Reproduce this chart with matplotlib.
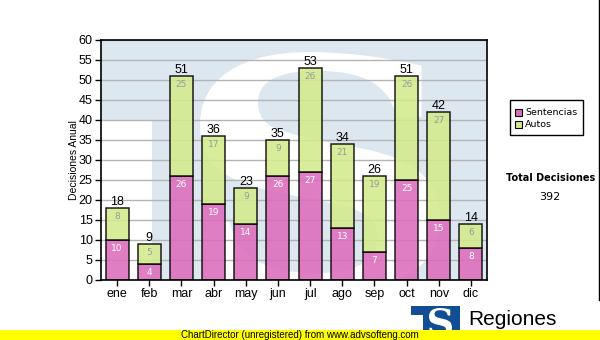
import numpy as np
import matplotlib
matplotlib.use("Agg")
import matplotlib.pyplot as plt
from matplotlib.patches import Rectangle, PathPatch
from matplotlib.textpath import TextPath
from matplotlib.transforms import Affine2D
from matplotlib.font_manager import FontProperties
from matplotlib.lines import Line2D

# monthly decisions
meses = ["ene", "feb", "mar", "abr", "may", "jun", "jul", "ago", "sep", "oct", "nov", "dic"]
sentencias = [10, 4, 26, 19, 14, 26, 27, 13, 7, 25, 15, 8]
autos = [8, 5, 25, 17, 9, 9, 26, 21, 19, 26, 27, 6]
yticks = list(range(0, 61, 5))

W, H = 600, 340
PINK = "#dc6cbb"
GREEN = "#d3eb8c"
LIGHT_BLUE = "#dde7f0"
LOGO_BLUE = "#124e94"

fig = plt.figure(figsize=(W / 100, H / 100), dpi=100)
fig.patch.set_facecolor("white")


def px(x, y):
    # pixel position (from top-left) -> figure fraction
    return x / W, 1 - y / H


def s_patch(x0, y0, x1, y1, color, **kw):
    tp = TextPath((0, 0), "S", size=1,
                  prop=FontProperties(family="DejaVu Serif", weight="bold"))
    ext = tp.get_extents()
    sx = (x1 - x0) / ext.width / W
    sy = (y1 - y0) / ext.height / H
    tr = (Affine2D().translate(-ext.x0, -ext.y0).scale(sx, sy)
          .translate(x0 / W, 1 - y1 / H) + fig.transFigure)
    return PathPatch(tp, transform=tr, facecolor=color, lw=0, **kw)


l, t = px(101, 40)
r, b = px(487, 280)
ax = fig.add_axes([l, b, r - l, t - b])
ax.set_facecolor(LIGHT_BLUE)

# faded logo behind the bars
wm = Rectangle(px(101, 280), 51 / W, 160 / H, transform=fig.transFigure,
               facecolor="white", lw=0, zorder=0.1)
ax.add_artist(wm)
ax.add_artist(s_patch(200, 52, 440, 292, "white", zorder=0.2))

x = np.arange(len(meses))
tot = [s + a for s, a in zip(sentencias, autos)]

ax.grid(axis="y", color="#b4b4b4", lw=1, zorder=0.5)
ax.set_axisbelow(True)
ax.bar(x, sentencias, width=0.72, color=PINK, alpha=0.88, edgecolor="black",
       lw=1.1, zorder=2)
ax.bar(x, autos, bottom=sentencias, width=0.72, color=GREEN, alpha=0.88,
       edgecolor="black", lw=1.1, zorder=2)

for i in range(len(meses)):
    ax.annotate(str(sentencias[i]), (x[i], sentencias[i]), xytext=(0, -3),
                textcoords="offset points", ha="center", va="top",
                fontsize=6.5, color="white", zorder=3)
    ax.annotate(str(autos[i]), (x[i], tot[i]), xytext=(0, -3),
                textcoords="offset points", ha="center", va="top",
                fontsize=6.5, color="#9a9a9a", zorder=3)
    ax.annotate(str(tot[i]), (x[i], tot[i]), xytext=(0, 0),
                textcoords="offset points", ha="center", va="bottom",
                fontsize=9, family="Liberation Sans", color="black", zorder=3)

ax.set_xlim(-0.5, len(meses) - 0.5)
ax.set_ylim(0, 60)
ax.set_yticks(yticks)
ax.set_xticks(x)
ax.set_xticklabels(meses)
ax.tick_params(direction="out", length=4, width=1, labelsize=9, pad=2)
for lab in ax.get_xticklabels() + ax.get_yticklabels():
    lab.set_family("Liberation Sans")
for sp in ax.spines.values():
    sp.set_linewidth(1.2)
ax.set_ylabel("Decisiones Anual", fontsize=7.5, family="Liberation Sans",
              labelpad=0)

# legend box
fig.add_artist(Rectangle(px(510, 135), 73 / W, 35 / H, transform=fig.transFigure,
                         facecolor="white", edgecolor="black", lw=1))
for yy, c, name in [(112, PINK, "Sentencias"), (124, GREEN, "Autos")]:
    fig.add_artist(Rectangle(px(515, yy + 4), 7 / W, 7 / H,
                             transform=fig.transFigure, facecolor=c,
                             edgecolor="black", lw=0.8))
    fig.text(*px(525, yy + 0.5), name, fontsize=6.8, va="center", ha="left")

fig.text(*px(551, 178), "Total Decisiones", fontsize=7, fontweight="bold",
         ha="center", va="center")
fig.text(*px(550, 197), str(sum(tot)), fontsize=8, ha="center", va="center")

# right border
fig.add_artist(Line2D([598.5 / W] * 2, [1, 1 - 300 / H], color="black", lw=1,
                      transform=fig.transFigure))

# bottom logo
fig.add_artist(Rectangle(px(411, 315), 49 / W, 9 / H, transform=fig.transFigure,
                         facecolor=LOGO_BLUE, lw=0))
fig.add_artist(Rectangle(px(423, 340), 37 / W, 34 / H, transform=fig.transFigure,
                         facecolor=LOGO_BLUE, lw=0))
fig.add_artist(s_patch(429, 308, 452, 336, "white"))
fig.text(*px(468, 325), "Regiones", fontsize=15, family="Liberation Sans",
         ha="left", va="baseline")
fig.text(*px(468, 338.5), "Tribunal Supremo de Justicia", fontsize=7,
         family="Liberation Sans", ha="left", va="baseline")

# footer strip
fig.add_artist(Rectangle((0, 0), 1, 10 / H, transform=fig.transFigure,
                         facecolor="#ffff00", lw=0, zorder=5))
fig.text(*px(300, 334.5), "ChartDirector (unregistered) from www.advsofteng.com",
         fontsize=7, family="Liberation Sans", ha="center", va="center", zorder=6)

fig.savefig("out.png", dpi=100)
